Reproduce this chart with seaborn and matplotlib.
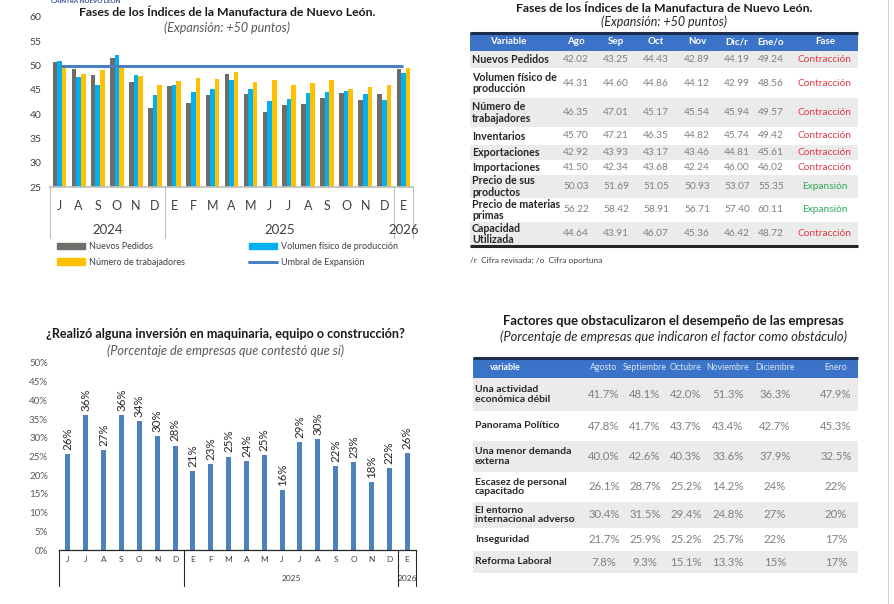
import numpy as np
import pandas as pd
import matplotlib
matplotlib.use("Agg")
import matplotlib.pyplot as plt
import seaborn as sns
from matplotlib.patches import Patch
from matplotlib.lines import Line2D

# ---------------- data ----------------
# chart 1: indices (Jul 2024 - Ene 2026)
meses1 = ["J", "A", "S", "O", "N", "D", "E", "F", "M", "A", "M", "J", "J", "A", "S", "O", "N", "D", "E"]
anios1 = ["2024", "2025", "2026"]
meses_por_anio1 = [6, 12, 1]
nuevos_pedidos = [50.7, 49.2, 48.1, 51.5, 46.7, 41.2, 45.7, 42.3, 43.9, 48.3, 44.1, 40.5, 41.9,
                  42.02, 43.25, 44.43, 42.89, 44.19, 49.24]
volumen_fisico = [51.0, 47.7, 46.1, 52.1, 48.1, 43.9, 46.1, 44.5, 45.2, 47.1, 45.2, 42.8, 43.2,
                  44.31, 44.60, 44.86, 44.12, 42.99, 48.56]
num_trabajadores = [49.7, 48.3, 49.0, 49.6, 47.9, 45.9, 46.9, 47.5, 47.3, 48.6, 46.7, 47.0, 45.9,
                    46.35, 47.01, 45.17, 45.54, 45.94, 49.57]
UMBRAL = 50
series1 = ["Nuevos Pedidos", "Volumen físico de producción", "Número de trabajadores"]

# chart 2: inversion (Jun 2024 - Ene 2026)
meses2 = ["J", "J", "A", "S", "O", "N", "D", "E", "F", "M", "A", "M", "J", "J", "A", "S", "O", "N", "D", "E"]
anios2 = ["", "2025", "2026"]
meses_por_anio2 = [7, 12, 1]
inversion = [25.6, 36.1, 26.8, 36.0, 34.4, 30.4, 27.9, 21.2, 23.0, 25.0, 23.8, 25.3, 16.1, 28.8,
             29.6, 22.4, 23.4, 18.2, 21.9, 26.0]

# table 1
tabla1_meses = ["Ago", "Sep", "Oct", "Nov", "Dic/r", "Ene/o"]
tabla1_vars = ["Nuevos Pedidos", "Volumen físico de\nproducción", "Número de\ntrabajadores",
               "Inventarios", "Exportaciones", "Importaciones", "Precio de sus\nproductos",
               "Precio de materias\nprimas", "Capacidad\nUtilizada"]
tabla1_vals = [
    [42.02, 43.25, 44.43, 42.89, 44.19, 49.24],
    [44.31, 44.60, 44.86, 44.12, 42.99, 48.56],
    [46.35, 47.01, 45.17, 45.54, 45.94, 49.57],
    [45.70, 47.21, 46.35, 44.82, 45.74, 49.42],
    [42.92, 43.93, 43.17, 43.46, 44.81, 45.61],
    [41.50, 42.34, 43.68, 42.24, 46.00, 46.02],
    [50.03, 51.69, 51.05, 50.93, 53.07, 55.35],
    [56.22, 58.42, 58.91, 56.71, 57.40, 60.11],
    [44.64, 43.91, 46.07, 45.36, 46.42, 48.72],
]
tabla1_fase = ["Contracción", "Contracción", "Contracción", "Contracción", "Contracción",
               "Contracción", "Expansión", "Expansión", "Contracción"]

# table 2
tabla2_meses = ["Agosto", "Septiembre", "Octubre", "Noviembre", "Diciembre", "Enero"]
tabla2_vars = ["Una actividad\neconómica débil", "Panorama Político", "Una menor demanda\nexterna",
               "Escasez de personal\ncapacitado", "El entorno\ninternacional adverso",
               "Inseguridad", "Reforma Laboral"]
tabla2_vals = [
    ["41.7%", "48.1%", "42.0%", "51.3%", "36.3%", "47.9%"],
    ["47.8%", "41.7%", "43.7%", "43.4%", "42.7%", "45.3%"],
    ["40.0%", "42.6%", "40.3%", "33.6%", "37.9%", "32.5%"],
    ["26.1%", "28.7%", "25.2%", "14.2%", "24%", "22%"],
    ["30.4%", "31.5%", "29.4%", "24.8%", "27%", "20%"],
    ["21.7%", "25.9%", "25.2%", "25.7%", "22%", "17%"],
    ["7.8%", "9.3%", "15.1%", "13.3%", "15%", "17%"],
]

# ---------------- style ----------------
sns.set_theme(style="white")
plt.rcParams["font.family"] = ["Lato", "DejaVu Sans"]

W, H = 894, 604
GRIS = "#6d6e68"
CIAN = "#00b0f0"
AMARILLO = "#ffc000"
AZUL = "#4f81bd"
TXT = "#404040"
HEADER = "#3b73c8"
NAVY = "#1f2d4d"
BANDA = "#ebebeb"

fig = plt.figure(figsize=(W / 100, H / 100), dpi=100)


def px_axes(x0, y0, x1, y1):
    return fig.add_axes([x0 / W, 1 - y1 / H, (x1 - x0) / W, (y1 - y0) / H])


def fig_text(x, y, s, **kw):
    fig.text(x / W, 1 - y / H, s, **kw)


def year_axis(ax, anios, por_anio, y_year, y_sep, size, color):
    # separators + year labels under the month ticks
    tr = ax.get_xaxis_transform()
    bordes = np.concatenate([[0], np.cumsum(por_anio)]) - 0.5
    for b in bordes:
        ax.plot([b, b], [0, y_sep], transform=tr, clip_on=False, color=color, lw=0.8)
    for i, a in enumerate(anios):
        if a:
            c = (bordes[i] + bordes[i + 1]) / 2
            ax.text(c, y_year, a, transform=tr, ha="center", va="center", fontsize=size, color=TXT)


# ---------------- chart 1 ----------------
ax1 = px_axes(50, 17, 413, 187)
n1 = len(meses1)
df1 = pd.DataFrame({
    "pos": np.tile(np.arange(n1), 3),
    "serie": np.repeat(series1, n1),
    "valor": nuevos_pedidos + volumen_fisico + num_trabajadores,
})
sns.barplot(data=df1, x="pos", y="valor", hue="serie", hue_order=series1,
            palette=[GRIS, CIAN, AMARILLO], width=0.72, saturation=1, linewidth=0,
            ax=ax1, legend=False)
ax1.plot(np.arange(n1), [UMBRAL] * n1, color="#4a7fc1", lw=2.2, solid_capstyle="butt")
ax1.set_ylim(25, 60)
ax1.set_yticks(range(25, 61, 5))
ax1.set_xlim(-0.5, n1 - 0.5)
ax1.set_xticks(range(n1))
ax1.set_xticklabels(meses1)
ax1.set_xlabel("")
ax1.set_ylabel("")
ax1.tick_params(axis="x", length=0, pad=9, labelsize=9, labelcolor=TXT)
ax1.tick_params(axis="y", length=0, pad=6, labelsize=7.5, labelcolor=TXT)
for s in ["left", "top", "right"]:
    ax1.spines[s].set_visible(False)
ax1.spines["bottom"].set_color("#bfbfbf")
ax1.patch.set_alpha(0)
year_axis(ax1, anios1, meses_por_anio1, -0.255, -0.30, 9.5, "#bfbfbf")

fig_text(227, 12, "Fases de los Índices de la Manufactura de Nuevo León.", ha="center", va="center",
         fontsize=8.8, fontweight="bold", color="#1a1a1a")
fig_text(227, 28, "(Expansión: +50 puntos)", ha="center", va="center", fontsize=9,
         style="italic", color="#595959")
fig_text(86, 1, "CAINTRA NUEVO LEÓN", ha="center", va="center", fontsize=4.5,
         fontweight="bold", color="#2b4c8c")

h_np = Patch(color=GRIS)
h_vol = Patch(color=CIAN)
h_nt = Patch(color=AMARILLO)
h_um = Line2D([], [], color="#4a7fc1", lw=2.2)
leg_kw = dict(frameon=False, fontsize=6.5, handlelength=3.1, handletextpad=0.4,
              labelspacing=0.75, borderaxespad=0, borderpad=0, bbox_transform=fig.transFigure,
              loc="upper left", labelcolor=TXT)
leg_a = ax1.legend([h_np, h_nt], ["Nuevos Pedidos", "Número de trabajadores"],
                   bbox_to_anchor=(57 / W, 1 - 242 / H), **leg_kw)
ax1.add_artist(leg_a)
ax1.legend([h_vol, h_um], ["Volumen físico de producción", "Umbral de Expansión"],
           bbox_to_anchor=(249 / W, 1 - 242 / H), **leg_kw)

# ---------------- chart 2 ----------------
ax2 = px_axes(59, 363, 416, 550)
n2 = len(meses2)
df2 = pd.DataFrame({"pos": np.arange(n2), "valor": inversion})
sns.barplot(data=df2, x="pos", y="valor", color=AZUL, width=0.28, saturation=1, linewidth=0, ax=ax2)
ax2.bar_label(ax2.containers[0], labels=[f"{v:.0f}%" for v in inversion], rotation=90,
              padding=3, fontsize=8.3, color="#262626")
ax2.set_ylim(0, 50)
ax2.set_yticks(range(0, 51, 5))
ax2.set_yticklabels([f"{t}%" for t in range(0, 51, 5)])
ax2.set_xlim(-0.5, n2 - 0.5)
ax2.set_xticks(range(n2))
ax2.set_xticklabels(meses2)
ax2.set_xlabel("")
ax2.set_ylabel("")
ax2.tick_params(axis="x", length=0, pad=4, labelsize=6, labelcolor=TXT)
ax2.tick_params(axis="y", length=0, pad=8, labelsize=7, labelcolor="#595959")
for s in ["left", "top", "right"]:
    ax2.spines[s].set_visible(False)
ax2.spines["bottom"].set_color("#262626")
ax2.spines["bottom"].set_linewidth(0.9)
ax2.patch.set_alpha(0)
year_axis(ax2, anios2, meses_por_anio2, -0.15, -0.19, 6, "#262626")

fig_text(225, 334, "¿Realizó alguna inversión en maquinaria, equipo o construcción?", ha="center",
         va="center", fontsize=9.1, fontweight="bold", color="#1a1a1a")
fig_text(225, 351, "(Porcentaje de empresas que contestó que sí)", ha="center", va="center",
         fontsize=9.2, style="italic", color="#595959")

# ---------------- tables (pixel overlay) ----------------
tab = fig.add_axes([0, 0, 1, 1])
tab.set_xlim(0, W)
tab.set_ylim(H, 0)
tab.axis("off")
tab.patch.set_alpha(0)


def draw_table(x0, x1, y_head, h_head, alturas, var_header, var_x, label_x, col_x, meses,
               filas, valores, size_lab, size_val, size_head, head_weight="bold", head_color="white",
               fase=None, fase_x=None, bottom_line=False):
    tab.add_patch(plt.Rectangle((x0, y_head), x1 - x0, h_head, color=HEADER, lw=0))
    tab.plot([x0, x1], [y_head, y_head], color=NAVY, lw=2.2, solid_capstyle="butt")
    yc = y_head + h_head / 2
    tab.text(var_x, yc, var_header, ha="center", va="center", color="white",
             fontsize=size_head, fontweight="bold")
    for cx, m in zip(col_x, meses):
        tab.text(cx, yc, m, ha="center", va="center", color=head_color, fontsize=size_head,
                 fontweight=head_weight)
    if fase is not None:
        tab.text(fase_x, yc, "Fase", ha="center", va="center", color="white",
                 fontsize=size_head, fontweight="bold")
    y = y_head + h_head
    for i, (lab, vals, h) in enumerate(zip(filas, valores, alturas)):
        if i % 2 == 0:
            tab.add_patch(plt.Rectangle((x0, y), x1 - x0, h, color=BANDA, lw=0))
        c = y + h / 2
        tab.text(label_x, c, lab, ha="left", va="center", fontsize=size_lab, fontweight="bold",
                 color="#262626", linespacing=1.0)
        for cx, v in zip(col_x, vals):
            txt = v if isinstance(v, str) else f"{v:.2f}"
            tab.text(cx, c, txt, ha="center", va="center", fontsize=size_val, color="#7f7f7f")
        if fase is not None:
            col = "#2daa5a" if fase[i] == "Expansión" else "#e03a42"
            tab.text(fase_x, c, fase[i], ha="center", va="center", fontsize=size_val, color=col)
        y += h
    if bottom_line:
        tab.plot([x0, x1], [y, y], color="#262626", lw=2.2, solid_capstyle="butt")


# table 1
fig_text(664, 8, "Fases de los Índices de la Manufactura de Nuevo León.", ha="center", va="center",
         fontsize=8.8, fontweight="bold", color="#1a1a1a")
fig_text(664, 22, "(Expansión: +50 puntos)", ha="center", va="center", fontsize=9,
         style="italic", color="#262626")
draw_table(470, 858, 33, 18, [17, 30, 29, 18, 15, 15, 23, 24, 24], "Variable", 508, 472,
           [576, 616, 656, 697, 737, 771], tabla1_meses, tabla1_vars, tabla1_vals,
           7.7, 7.3, 7, fase=tabla1_fase, fase_x=825, bottom_line=True)
fig_text(470, 260, "/r  Cifra revisada; /o  Cifra oportuna", ha="left", va="center",
         fontsize=6, color=TXT)

# table 2
fig_text(673, 321, "Factores que obstaculizaron el desempeño de las empresas", ha="center",
         va="center", fontsize=9.4, fontweight="bold", color="#1a1a1a")
fig_text(673, 337, "(Porcentaje de empresas que indicaron el factor como obstáculo)", ha="center",
         va="center", fontsize=9.4, style="italic", color="#262626")
draw_table(473, 858, 358, 20, [33, 30, 31, 30, 26, 23, 22], "variable", 505, 475,
           [604, 645, 686, 728, 775, 836], tabla2_meses, tabla2_vars, tabla2_vals,
           7.5, 8.2, 6.3, head_weight="normal", head_color="#dce6f4")

tab.plot([888, 888], [0, H], color="#cfcfcf", lw=0.8)

fig.savefig("out.png", dpi=100)
